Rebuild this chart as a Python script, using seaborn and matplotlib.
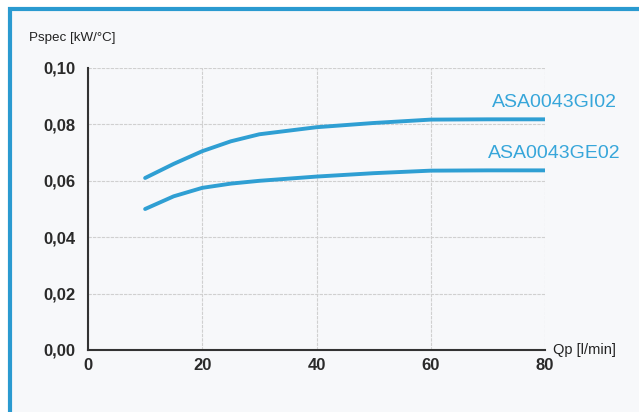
import matplotlib
matplotlib.use("Agg")
import matplotlib.pyplot as plt
import seaborn as sns
import pandas as pd
from matplotlib.patches import Rectangle

qp = [10, 15, 20, 25, 30, 40, 50, 60, 70, 80]
gi02 = [0.061, 0.066, 0.0705, 0.0740, 0.0765, 0.0790, 0.0805, 0.0817, 0.0818, 0.0818]
ge02 = [0.050, 0.0545, 0.0575, 0.0590, 0.0600, 0.0615, 0.0627, 0.0636, 0.0637, 0.0637]
series_names = ["ASA0043GI02", "ASA0043GE02"]
xticks = [0, 20, 40, 60, 80]
yticks = [0.0, 0.02, 0.04, 0.06, 0.08, 0.10]
ytick_labels = ["0,00", "0,02", "0,04", "0,06", "0,08", "0,10"]

df = pd.DataFrame({
    "Qp": qp * 2,
    "Pspec": gi02 + ge02,
    "series": [series_names[0]] * len(qp) + [series_names[1]] * len(qp),
})

sns.set_style("white")
plt.rcParams["font.family"] = ["Liberation Sans", "DejaVu Sans"]

blue = "#2f9fd3"
fig = plt.figure(figsize=(6.39, 4.12), dpi=100)
fig.patch.set_facecolor("white")
# blue frame (open at the bottom and right, as in the scan)
fig.patches.append(Rectangle((10 / 639, -10 / 412), 640 / 639, (412 - 9 + 10) / 412, transform=fig.transFigure,
                             fill=True, facecolor="#f7f8fa", edgecolor="#2a9ad0", linewidth=3, zorder=-1))

ax = fig.add_axes([88 / 639, 1 - 350 / 412, (545 - 88) / 639, (350 - 68) / 412])
ax.set_facecolor("none")
sns.lineplot(data=df, x="Qp", y="Pspec", hue="series", palette=[blue, blue],
             linewidth=2.8, legend=False, ax=ax)

ax.set_xlim(0, 80)
ax.set_ylim(0, 0.10)
ax.set_xticks(xticks)
ax.set_xticklabels([str(t) for t in xticks])
ax.set_yticks(yticks)
ax.set_yticklabels(ytick_labels)
ax.grid(True, color="#d0d0d0", linewidth=0.8, linestyle=(0, (3, 1)))
ax.set_xlabel("")
ax.set_ylabel("")
for s in ["top", "right"]:
    ax.spines[s].set_visible(False)
for s in ["left", "bottom"]:
    ax.spines[s].set_color("#333333")
    ax.spines[s].set_linewidth(1.5)
ax.tick_params(axis="both", length=5, width=1.3, color="#333333", labelsize=12, colors="#2a2a2a")
ax.tick_params(axis="x", direction="inout", pad=3)
ax.tick_params(axis="y", direction="out", pad=4)
for lab in ax.get_xticklabels() + ax.get_yticklabels():
    lab.set_fontweight("semibold")

fig.text(29 / 639, 1 - 38 / 412, "Pspec [kW/°C]", fontsize=9.6, color="#222222", va="center", ha="left")
fig.text(553 / 639, 1 - 350 / 412, "Qp [l/min]", fontsize=10.5, color="#222222", va="center", ha="left")
ax.text(92.6, 0.0862, series_names[0], color="#37a6da", fontsize=14, ha="right", va="baseline", clip_on=False)
ax.text(93.3, 0.0681, series_names[1], color="#37a6da", fontsize=14, ha="right", va="baseline", clip_on=False)

fig.savefig("out.png", dpi=100)
